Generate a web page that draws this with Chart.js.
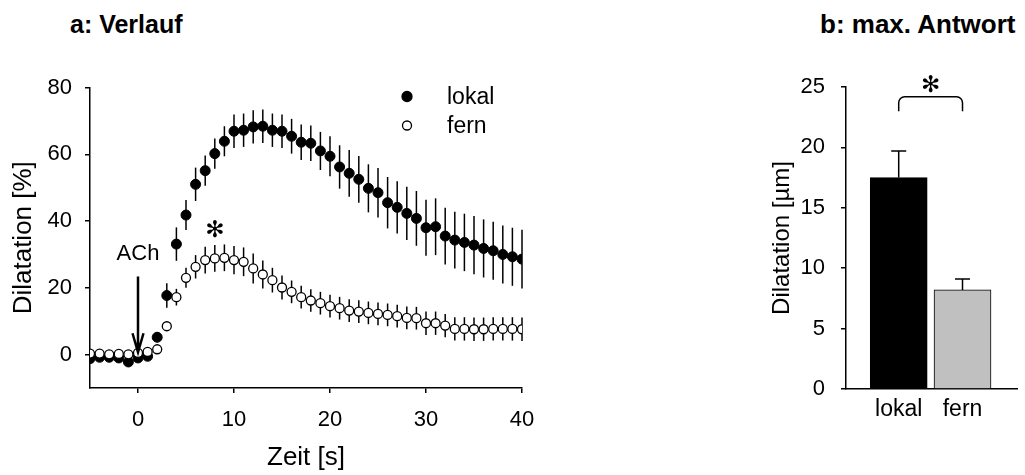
<!DOCTYPE html>
<html lang="de">
<head>
<meta charset="utf-8">
<title>Dilatation nach ACh</title>
<script src="https://cdn.jsdelivr.net/npm/chart.js@4/dist/chart.umd.min.js"></script>
<style>
  html, body { margin: 0; padding: 0; background: #fff; }
  body { width: 1025px; height: 475px; position: relative; overflow: hidden; font-family: 'Liberation Sans', Arial, sans-serif; }
  .titel { position: absolute; top: 9px; font-weight: bold; font-size: 25px; line-height: 30px; color: #000; white-space: nowrap; }
  #chart-verlauf { position: absolute; left: 0; top: 0; }
  #chart-antwort { position: absolute; left: 700px; top: 0; }
</style>
</head>
<body>
<div class="titel" style="left:70px">a: Verlauf</div>
<div class="titel" style="left:820px; font-size:26px">b: max. Antwort</div>
<canvas id="chart-verlauf" width="560" height="475"></canvas>
<canvas id="chart-antwort" width="325" height="475"></canvas>
<script>
// Zeitverlauf (1 s Raster)
const zeit = [-5, -4, -3, -2, -1, 0, 1, 2, 3, 4, 5, 6, 7, 8, 9, 10, 11, 12, 13, 14, 15, 16, 17, 18, 19, 20,
  21, 22, 23, 24, 25, 26, 27, 28, 29, 30, 31, 32, 33, 34, 35, 36, 37, 38, 39, 40];
const lokal = [-1.2, -0.8, -0.8, -1.0, -2.2, -1.0, -0.5, 5.2, 17.7, 33.1, 41.8, 51.0, 55.1, 60.2, 63.9, 66.9,
  67.2, 68.2, 68.4, 67.2, 66.9, 65.4, 63.6, 63.3, 61.0, 59.4, 56.2, 54.3, 52.5, 49.8, 48.5, 45.5, 44.1, 42.3,
  40.8, 38.0, 38.3, 35.5, 34.3, 33.6, 32.8, 31.8, 31.1, 30.0, 29.3, 28.6];
const lokalFehler = [0.8, 0.8, 0.8, 0.8, 0.8, 0.8, 0.8, 1.5, 3.7, 5.0, 4.5, 5.0, 4.5, 4.5, 4.5, 5.0,
  5.0, 5.0, 5.0, 5.0, 5.0, 5.2, 5.3, 5.3, 5.7, 6.0, 6.5, 7.0, 7.0, 7.2, 7.4, 7.7, 7.8, 8.0,
  8.2, 8.4, 8.5, 8.5, 8.5, 8.6, 8.7, 8.7, 8.7, 8.7, 8.7, 8.8];
const fern = [0.3, 0.3, 0.1, 0.2, 0.1, 0.5, 0.8, 1.6, 8.5, 17.2, 23.0, 26.3, 28.3, 28.8, 29.0, 28.3,
  27.8, 25.8, 24.0, 22.3, 20.1, 18.8, 17.2, 16.2, 15.4, 14.5, 13.9, 13.2, 12.9, 12.5, 12.2, 11.9, 11.5, 11.0,
  10.9, 9.4, 9.4, 8.7, 7.7, 7.7, 7.6, 7.6, 7.7, 7.7, 7.7, 7.6];
const fernFehler = [0.5, 0.5, 0.5, 0.5, 0.5, 0.5, 0.5, 0.5, 1.0, 2.5, 3.0, 3.5, 4.0, 4.0, 4.0, 4.2,
  4.3, 4.5, 4.2, 3.7, 3.6, 3.4, 3.4, 3.4, 3.4, 3.4, 3.4, 3.4, 3.4, 3.4, 3.4, 3.4, 3.4, 3.4,
  3.4, 3.5, 3.5, 3.5, 3.5, 3.5, 3.5, 3.5, 3.5, 3.5, 3.5, 3.5];
const zeitTicks = [0, 10, 20, 30, 40];
const prozentTicks = [0, 20, 40, 60, 80];

// maximale Antwort
const gruppen = ['lokal', 'fern'];
const maxAntwort = [17.5, 8.2];
const maxFehler = [2.2, 0.9];

Chart.defaults.font.family = "'Liberation Sans', Arial, sans-serif";
Chart.defaults.color = '#000';

const schrift = (size) => ({ size: size, family: "'Liberation Sans', Arial, sans-serif", lineHeight: 1.2 });

function achse(extra) {
  return Object.assign({
    border: { color: '#000', width: 1.5 },
    grid: { drawOnChartArea: false, drawTicks: true, tickLength: 5, color: '#000', lineWidth: 1.5 },
  }, extra);
}

function kreis(ctx, x, y, r, fuellung) {
  ctx.beginPath();
  ctx.arc(x, y, r, 0, Math.PI * 2);
  ctx.fillStyle = fuellung;
  ctx.fill();
  ctx.lineWidth = 1.3;
  ctx.strokeStyle = '#000';
  ctx.stroke();
}

// senkrechte Fehlerbalken (±SEM) hinter den Punkten
const fehlerbalken = {
  id: 'fehlerbalken',
  beforeDatasetsDraw(chart) {
    const { ctx, scales: { x, y } } = chart;
    ctx.save();
    ctx.strokeStyle = '#000';
    ctx.lineWidth = 1.5;
    chart.data.datasets.forEach(ds => {
      ds.data.forEach((p, i) => {
        const px = x.getPixelForValue(p.x);
        ctx.beginPath();
        ctx.moveTo(px, y.getPixelForValue(p.y - ds.fehler[i]));
        ctx.lineTo(px, y.getPixelForValue(p.y + ds.fehler[i]));
        ctx.stroke();
      });
    });
    ctx.restore();
  }
};

// Legende, ACh-Pfeil und Signifikanzstern
const beschriftung = {
  id: 'beschriftung',
  afterDraw(chart) {
    const { ctx, chartArea, scales: { x, y } } = chart;
    ctx.save();
    const lx = chartArea.left + 317;
    kreis(ctx, lx, chartArea.top + 9, 5, '#000');
    kreis(ctx, lx, chartArea.top + 38, 4.5, '#fff');
    ctx.fillStyle = '#000';
    ctx.font = "23px 'Liberation Sans', Arial, sans-serif";
    ctx.textAlign = 'left';
    ctx.textBaseline = 'middle';
    ctx.fillText('lokal', lx + 40, chartArea.top + 10);
    ctx.fillText('fern', lx + 40, chartArea.top + 39);

    const x0 = x.getPixelForValue(0);
    ctx.font = "22px 'Liberation Sans', Arial, sans-serif";
    ctx.textAlign = 'center';
    ctx.fillText('ACh', x0, y.getPixelForValue(30.2));
    const oben = y.getPixelForValue(23.4);
    const spitze = y.getPixelForValue(0.7);
    ctx.lineWidth = 2.5;
    ctx.beginPath();
    ctx.moveTo(x0, oben);
    ctx.lineTo(x0, spitze);
    ctx.moveTo(x0 - 5.5, spitze - 19);
    ctx.lineTo(x0, spitze);
    ctx.lineTo(x0 + 5.5, spitze - 19);
    ctx.stroke();

    ctx.font = "bold 23px 'DejaVu Sans'";
    ctx.fillText('\u273B', x.getPixelForValue(8), y.getPixelForValue(37.0));
    ctx.restore();
  }
};

new Chart(document.getElementById('chart-verlauf'), {
  type: 'scatter',
  data: {
    datasets: [
      {
        label: 'fern',
        data: zeit.map((t, i) => ({ x: t, y: fern[i] })),
        fehler: fernFehler,
        order: 0,
        pointRadius: 4.5,
        pointBackgroundColor: '#fff',
        pointBorderColor: '#000',
        pointBorderWidth: 1.3
      },
      {
        label: 'lokal',
        data: zeit.map((t, i) => ({ x: t, y: lokal[i] })),
        fehler: lokalFehler,
        order: 1,
        pointRadius: 5,
        pointBackgroundColor: '#000',
        pointBorderColor: '#000',
        pointBorderWidth: 1
      }
    ]
  },
  options: {
    responsive: false,
    animation: false,
    layout: { padding: { top: 87.5, right: 38, bottom: 0, left: 0 } },
    plugins: { legend: { display: false }, tooltip: { enabled: false } },
    scales: {
      x: achse({
        type: 'linear',
        min: -5,
        max: 40,
        afterBuildTicks: (s) => { s.ticks = zeitTicks.map(v => ({ value: v })); },
        afterFit: (s) => { s.height = 87; },
        ticks: { font: schrift(22), padding: 14, maxRotation: 0 },
        title: { display: true, text: 'Zeit [s]', font: schrift(26), padding: { top: 0, bottom: 2 } }
      }),
      y: achse({
        min: -10,
        max: 80,
        afterBuildTicks: (s) => { s.ticks = prozentTicks.map(v => ({ value: v })); },
        afterFit: (s) => { s.width = 90; },
        ticks: { font: schrift(22), padding: 13 },
        title: { display: true, text: 'Dilatation [%]', font: schrift(26), padding: { top: 8, bottom: 0 } }
      })
    }
  },
  plugins: [fehlerbalken, beschriftung]
});

// Fehlerbalken nach oben mit Querstrich, Klammer und Stern
const balkenExtras = {
  id: 'balkenExtras',
  afterDraw(chart) {
    const { ctx, scales: { x, y } } = chart;
    ctx.save();
    ctx.strokeStyle = '#000';
    ctx.lineWidth = 1.5;
    maxAntwort.forEach((v, i) => {
      const px = x.getPixelForValue(i + 1);
      const yTop = y.getPixelForValue(v + maxFehler[i]);
      ctx.beginPath();
      ctx.moveTo(px, y.getPixelForValue(v));
      ctx.lineTo(px, yTop);
      ctx.moveTo(px - 7.5, yTop);
      ctx.lineTo(px + 7.5, yTop);
      ctx.stroke();
    });

    const xa = x.getPixelForValue(1);
    const xb = x.getPixelForValue(2);
    const yk = y.getPixelForValue(24.2);
    const ye = y.getPixelForValue(23.0);
    const r = 6;
    ctx.beginPath();
    ctx.moveTo(xa, ye);
    ctx.lineTo(xa, yk + r);
    ctx.arcTo(xa, yk, xa + r, yk, r);
    ctx.lineTo(xb - r, yk);
    ctx.arcTo(xb, yk, xb, yk + r, r);
    ctx.lineTo(xb, ye);
    ctx.stroke();

    ctx.fillStyle = '#000';
    ctx.font = "bold 23px 'DejaVu Sans'";
    ctx.textAlign = 'center';
    ctx.textBaseline = 'middle';
    ctx.fillText('\u273B', x.getPixelForValue(1.5), y.getPixelForValue(25.1));
    ctx.restore();
  }
};

new Chart(document.getElementById('chart-antwort'), {
  type: 'bar',
  data: {
    datasets: [{
      label: 'max. Antwort',
      data: gruppen.map((g, i) => ({ x: i + 1, y: maxAntwort[i] })),
      backgroundColor: ['#000', '#c0c0c0'],
      borderColor: '#000',
      borderWidth: 1,
      barThickness: 57
    }]
  },
  options: {
    responsive: false,
    animation: false,
    layout: { padding: { top: 87, right: 8, bottom: 0, left: 0 } },
    plugins: { legend: { display: false }, tooltip: { enabled: false } },
    scales: {
      x: {
        type: 'linear',
        offset: false,
        min: 0.174,
        max: 2.854,
        border: { color: '#000', width: 1.5 },
        grid: { display: false, drawTicks: false, offset: false },
        afterBuildTicks: (s) => { s.ticks = gruppen.map((g, i) => ({ value: i + 1 })); },
        afterFit: (s) => { s.height = 86; },
        ticks: { font: schrift(23), padding: 7, callback: (v) => gruppen[v - 1] }
      },
      y: achse({
        min: 0,
        max: 25,
        ticks: { stepSize: 5, font: schrift(22), padding: 16 },
        afterFit: (s) => { s.width = 146; },
        title: { display: true, text: 'Dilatation [\u00B5m]', font: schrift(24), padding: { top: 68, bottom: 0 } }
      })
    }
  },
  plugins: [balkenExtras]
});
</script>
</body>
</html>
